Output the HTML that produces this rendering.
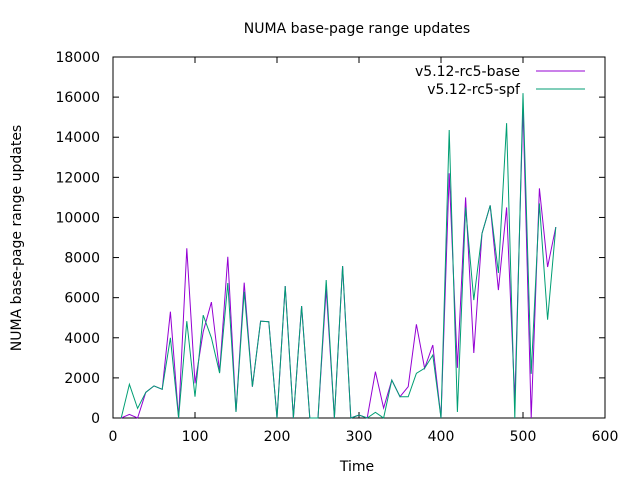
<!DOCTYPE html>
<html><head><meta charset="utf-8"><style>
body{margin:0;background:#fff}
svg text{font-family:"DejaVu Sans","Liberation Sans",sans-serif;font-size:14px;fill:#000}
</style></head><body>
<svg id="chart" width="640" height="480">
<text x="357" y="33" text-anchor="middle">NUMA base-page range updates</text>
<text x="357" y="471" text-anchor="middle">Time</text>
<text transform="translate(21,238) rotate(-90)" text-anchor="middle">NUMA base-page range updates</text>
<g id="axes"></g>
<g id="series"></g>
<g>
<text x="520" y="76" text-anchor="end">v5.12-rc5-base</text>
<line x1="536" y1="71" x2="585" y2="71" stroke="#9400d3" stroke-width="1"/>
<text x="520" y="94" text-anchor="end">v5.12-rc5-spf</text>
<line x1="536" y1="89" x2="585" y2="89" stroke="#009e73" stroke-width="1"/>
</g>
</svg>
<script>
const xs=[10,20,30,40,50,60,70,80,90,100,110,120,130,140,150,160,170,180,190,200,210,220,230,240,250,260,270,280,290,300,310,320,330,340,350,360,370,380,390,400,410,420,430,440,450,460,470,480,490,500,510,520,530,540];
const baseVals=[0,180,0,1280,1600,1430,5300,0,8460,1730,4300,5780,2300,8040,300,6750,1560,4830,4800,0,6580,0,5580,0,0,6430,0,7580,0,150,0,2310,500,1890,1060,1560,4670,2480,3640,0,12200,2500,11000,3240,9200,10600,6380,10500,900,15500,0,11450,7530,9520];
const spfVals=[0,1680,480,1280,1600,1430,4000,0,4830,1060,5130,4000,2240,6730,300,6300,1560,4830,4800,0,6580,0,5580,0,0,6880,0,7580,0,150,0,280,0,1890,1060,1060,2230,2480,3140,0,14360,300,10500,5880,9200,10600,7230,14700,0,16200,2200,10700,4900,9520];
const xTicks=[0,100,200,300,400,500,600];
const yTicks=[0,2000,4000,6000,8000,10000,12000,14000,16000,18000];
const L=113,R=605,T=57,B=418;
const X=v=>L+(v-0)/600*(R-L);
const Y=v=>B-(v/18000)*(B-T);
const NS="http://www.w3.org/2000/svg";
const axes=document.getElementById('axes');
function mk(tag,attrs,parent){const e=document.createElementNS(NS,tag);for(const k in attrs)e.setAttribute(k,attrs[k]);parent.appendChild(e);return e;}
const frame=mk('rect',{x:L,y:T,width:R-L,height:B-T,fill:'none',stroke:'#000','stroke-width':1},axes);


xTicks.forEach(t=>{
 const x=X(t);
 mk('line',{x1:x,y1:B,x2:x,y2:B-6,stroke:'#000'},axes);
 mk('line',{x1:x,y1:T,x2:x,y2:T+6,stroke:'#000'},axes);
 const tx=mk('text',{x:x,y:B+23,'text-anchor':'middle'},axes);
 tx.textContent=t;
 
 
});
yTicks.forEach(t=>{
 const y=Y(t);
 mk('line',{x1:L,y1:y,x2:L+6,y2:y,stroke:'#000'},axes);
 mk('line',{x1:R,y1:y,x2:R-6,y2:y,stroke:'#000'},axes);
 const tx=mk('text',{x:L-13,y:y+5,'text-anchor':'end'},axes);
 tx.textContent=t;
 
 
});
const series=document.getElementById('series');
function line(vals,color,name){
 const p=mk('polyline',{points:xs.map((x,i)=>X(x)+','+Y(vals[i])).join(' '),fill:'none',stroke:color,'stroke-width':1},series);
 
 
}
line(baseVals,'#9400d3','series-base-line');
line(spfVals,'#009e73','series-spf-line');
</script>
</body></html>
